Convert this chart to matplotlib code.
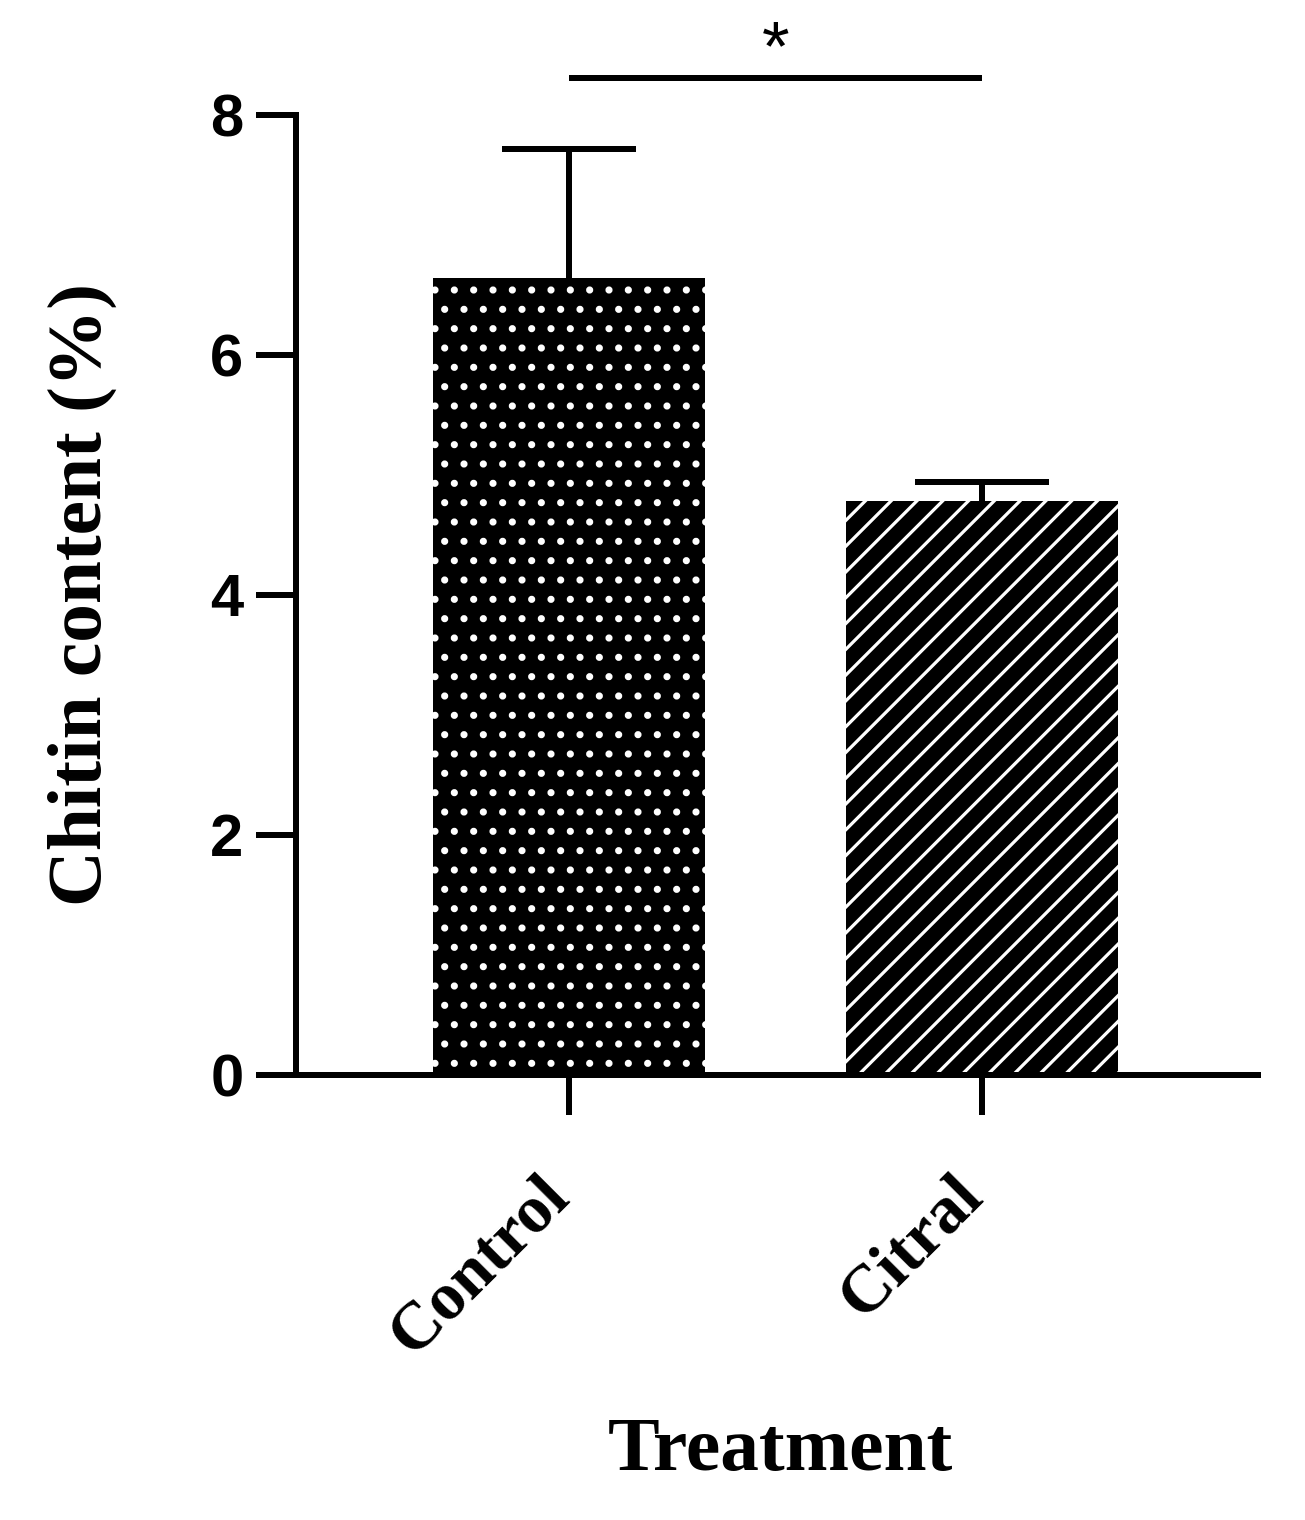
import matplotlib
matplotlib.use('Agg')
import matplotlib.pyplot as plt
from matplotlib.transforms import ScaledTranslation

# Data
treatments = ['Control', 'Citral']
chitin_mean = [6.64, 4.78]
chitin_err = [1.08, 0.16]
y_ticks = [0, 2, 4, 6, 8]
sig_pair = (0, 1)
sig_text = '*'

# Hatch unit is one inch of pixels, so the dpi sets the pattern spacing
DPI = 232
PT = 72 / DPI  # points per pixel
W, H = 1305, 1520


def main():
    plt.rcParams['hatch.color'] = 'white'
    plt.rcParams['hatch.linewidth'] = 1.0

    fig = plt.figure(figsize=(W / DPI, H / DPI), dpi=DPI)
    ax = fig.add_axes([296 / W, 445 / H, 962 / W, 960 / H])

    x = list(range(len(treatments)))

    # Bars: black fill with white dots / white diagonal stripes
    bars = ax.bar(x, chitin_mean, width=0.66, color='black', edgecolor='white',
                  linewidth=0, zorder=2)
    for patch, hatch in zip(bars, ['..', '///']):
        patch.set_hatch(hatch)

    # Upper error bars only
    _, caps, _ = ax.errorbar(x, chitin_mean, yerr=[[0] * len(x), chitin_err],
                             fmt='none', ecolor='black', elinewidth=6 * PT,
                             capsize=67 * PT, capthick=6 * PT, zorder=1)
    caps[0].set_visible(False)

    # Significance bar
    sig_y = 8.31
    ax.plot(sig_pair, [sig_y, sig_y], color='black', lw=6 * PT,
            solid_capstyle='butt', clip_on=False)
    ax.text(sum(sig_pair) / 2, 8.37, sig_text, ha='center', va='baseline',
            fontsize=22, family='Liberation Sans')

    # Axes
    ax.set_xlim(-0.661, 1.668)
    ax.set_ylim(0, 8)
    ax.spines[['top', 'right']].set_visible(False)
    ax.spines[['left', 'bottom']].set_linewidth(6 * PT)

    ax.set_yticks(y_ticks)
    ax.set_yticklabels([str(t) for t in y_ticks], family='Liberation Sans',
                       fontweight='bold', fontsize=18.5)
    ax.set_xticks(x)
    ax.set_xticklabels(treatments, family='Liberation Serif', fontweight='bold',
                       fontsize=21, rotation=45, ha='right', va='top')
    ax.tick_params(axis='both', direction='out', length=12.3, width=6 * PT,
                   color='black')
    ax.tick_params(axis='y', pad=4)
    ax.tick_params(axis='x', pad=15.5)
    for label in ax.get_xticklabels():
        label.set_transform(label.get_transform()
                            + ScaledTranslation(12 / DPI, 0, fig.dpi_scale_trans))

    ax.set_ylabel('Chitin content (%)', family='Liberation Serif',
                  fontweight='bold', fontsize=24)
    ax.set_xlabel('Treatment', family='Liberation Serif', fontweight='bold',
                  fontsize=24)
    ax.yaxis.set_label_coords(-0.186, 0.5)
    ax.xaxis.set_label_coords(0.503, -0.356)

    fig.savefig('out.png', dpi=DPI)


if __name__ == '__main__':
    main()
